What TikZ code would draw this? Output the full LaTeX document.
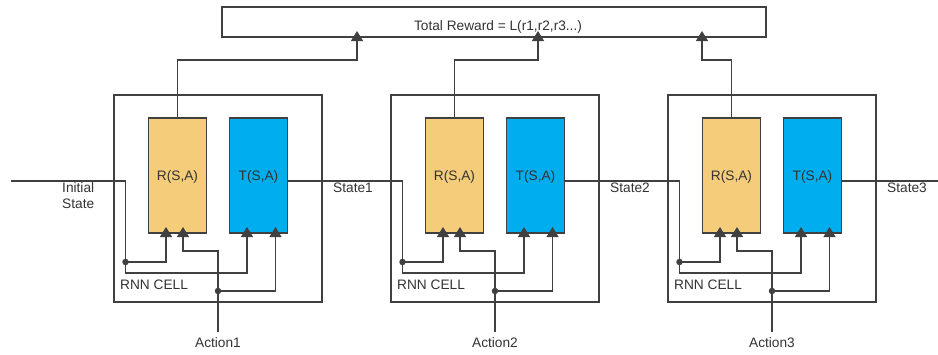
\documentclass[tikz,border=0pt]{standalone}
\usepackage{fontspec}
\setmainfont{Liberation Sans}
\usetikzlibrary{arrows.meta,calc}
\definecolor{rfill}{HTML}{F5CD7A}
\definecolor{tfill}{HTML}{00ADEF}
\definecolor{ln}{HTML}{404040}
\definecolor{txt}{HTML}{333333}
\begin{document}
\begin{tikzpicture}[x=1pt,y=-1pt,
  font=\fontsize{13.7}{16}\selectfont,
  cellbox/.style={draw=ln, line width=1.2pt, minimum width=208pt, minimum height=207pt, inner sep=0pt, outer sep=0pt},
  fbox/.style={draw=ln, line width=1.2pt, minimum width=58pt, minimum height=115pt, inner sep=0pt, outer sep=0pt, text height=9.8pt, text depth=0pt, text=txt},
  rbox/.style={fbox, fill=rfill},
  tbox/.style={fbox, fill=tfill},
  rewardbox/.style={draw=ln, line width=1.2pt, minimum width=544pt, minimum height=30pt, inner sep=0pt, outer sep=0pt},
  lbl/.style={text=txt, inner sep=0pt},
  wire/.style={draw=ln, line width=1.2pt},
  arr/.style={wire, -{Triangle[width=12pt,length=10pt]}},
  dot/.style={circle, fill=ln, inner sep=0pt, minimum size=6.5pt}]
\useasboundingbox (0,0) rectangle (938,354);
\fill[white] (0,0) rectangle (938,354);

% total reward box
\node[rewardbox, anchor=north west] (reward) at (222,7) {};
\node[lbl, anchor=base] (rewardtxt) at (498,30) {Total Reward = L(r1,r2,r3...)};

% start and end of the state line
\coordinate (sin1) at (11,181);
\coordinate (send) at (938,181);
\node[lbl, anchor=north west, align=left] (initlbl) at (62,182) {Initial\\State};

\foreach \i/\ox in {1/135,2/316,3/480} {
  \pgfmathsetmacro\cx{114+(\i-1)*277}
  \node[cellbox, anchor=north west] (cell\i) at (\cx,95) {};
  \node[rbox, anchor=north west] (R\i) at (\cx+34.5,118) {R(S,A)};
  \node[tbox, anchor=north west] (T\i) at (\cx+115.5,118) {T(S,A)};
  \node[lbl, anchor=base west] (rnn\i) at (\cx+6,289) {RNN CELL};
  \node[lbl, anchor=base] (act\i) at (\cx+104,347) {Action\i};
  \coordinate (drop\i) at (\cx+11.5,181);
  \coordinate (abot\i) at (\cx+104,332);
  \node[dot] (ds\i) at (\cx+11.5,262) {};
  \node[dot] (da\i) at (\cx+104,291) {};
  % state wiring
  \draw[arr] (sin\i) -- (drop\i) -- ++(0,92) -| ($(T\i.south west)+(17.5,-6)$);
  \draw[arr] (ds\i.center) -| ($(R\i.south west)+(17.5,-6)$);
  % action wiring
  \draw[arr] (abot\i) -- ++(0,-81) -| ($(R\i.south west)+(34.5,-6)$);
  \draw[arr] (da\i.center) -| ($(T\i.south west)+(46,-6)$);
  % reward output
  \draw[arr] (R\i.north) -- ++(0,-58) -| ($(reward.south west)+(\ox,-6)$);
  % next state
  \pgfmathtruncatemacro\nx{\i+1}
  \coordinate (sin\nx) at ($(T\i.east)+(0,5.5)$);
  \node[lbl, anchor=base west] (st\i) at (\cx+219,192) {State\i};
}
\draw[wire] (sin4) -- (send);
\end{tikzpicture}
\end{document}
